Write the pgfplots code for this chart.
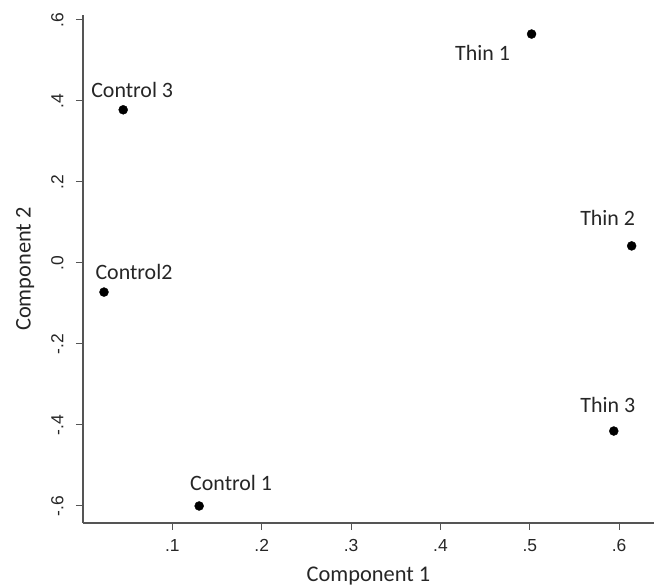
\documentclass[border=0pt]{standalone}
\usepackage{pgfplots}
\pgfplotsset{compat=1.18}
\usepackage{fontspec}
\setmainfont{Carlito}
\newfontfamily\arialfont{Liberation Sans}
\definecolor{axgray}{HTML}{555555}
\begin{document}
\begin{tikzpicture}
\begin{axis}[name=ax, scale only axis, width=571bp, height=508bp,
  xmin=0, xmax=0.639, ymin=-0.642, ymax=0.612,
  axis x line*=bottom, axis y line*=left,
  axis line style={-, draw=axgray, line width=1.3pt},
  xtick={0.1,0.2,0.3,0.4,0.5,0.6}, xticklabels={.1,.2,.3,.4,.5,.6},
  ytick={-0.6,-0.4,-0.2,0,0.2,0.4,0.6}, yticklabels={-.6,-.4,-.2,.0,.2,.4,.6},
  tick align=outside, major tick length=7bp,
  tick style={draw=axgray, line width=1pt},
  /pgf/number format/assume math mode=true,
  ticklabel style={font=\arialfont\fontsize{17.5}{20}\selectfont, text=black!85},
  xticklabel style={yshift=-6bp},
  yticklabel style={rotate=90, anchor=south, yshift=9bp},
  xlabel={Component 1}, ylabel={Component 2},
  label style={font=\fontsize{22.5}{26}\selectfont, text=black!85},
  xlabel style={yshift=-8bp},
  ylabel style={yshift=10bp},
  clip=false,
]
\addplot[only marks, mark=*, mark size=4.5bp, black] coordinates {(0.045,0.378)} node[font=\fontsize{22}{24}\selectfont, text=black!85, xshift=9bp,yshift=20bp] {Control 3};
\addplot[only marks, mark=*, mark size=4.5bp, black] coordinates {(0.0235,-0.072)} node[font=\fontsize{22}{24}\selectfont, text=black!85, xshift=30bp,yshift=20bp] {Control2};
\addplot[only marks, mark=*, mark size=4.5bp, black] coordinates {(0.13,-0.600)} node[font=\fontsize{22}{24}\selectfont, text=black!85, xshift=32bp,yshift=23bp] {Control 1};
\addplot[only marks, mark=*, mark size=4.5bp, black] coordinates {(0.502,0.565)} node[font=\fontsize{22}{24}\selectfont, text=black!85, xshift=-49bp,yshift=-19bp] {Thin 1};
\addplot[only marks, mark=*, mark size=4.5bp, black] coordinates {(0.614,0.042)} node[font=\fontsize{22}{24}\selectfont, text=black!85, xshift=-24bp,yshift=28bp] {Thin 2};
\addplot[only marks, mark=*, mark size=4.5bp, black] coordinates {(0.594,-0.415)} node[font=\fontsize{22}{24}\selectfont, text=black!85, xshift=-6bp,yshift=26bp] {Thin 3};
\end{axis}
\pgfresetboundingbox
\path ([shift={(-83bp,-65bp)}]ax.south west) rectangle ([shift={(0bp,15bp)}]ax.north east);
\end{tikzpicture}
\end{document}
